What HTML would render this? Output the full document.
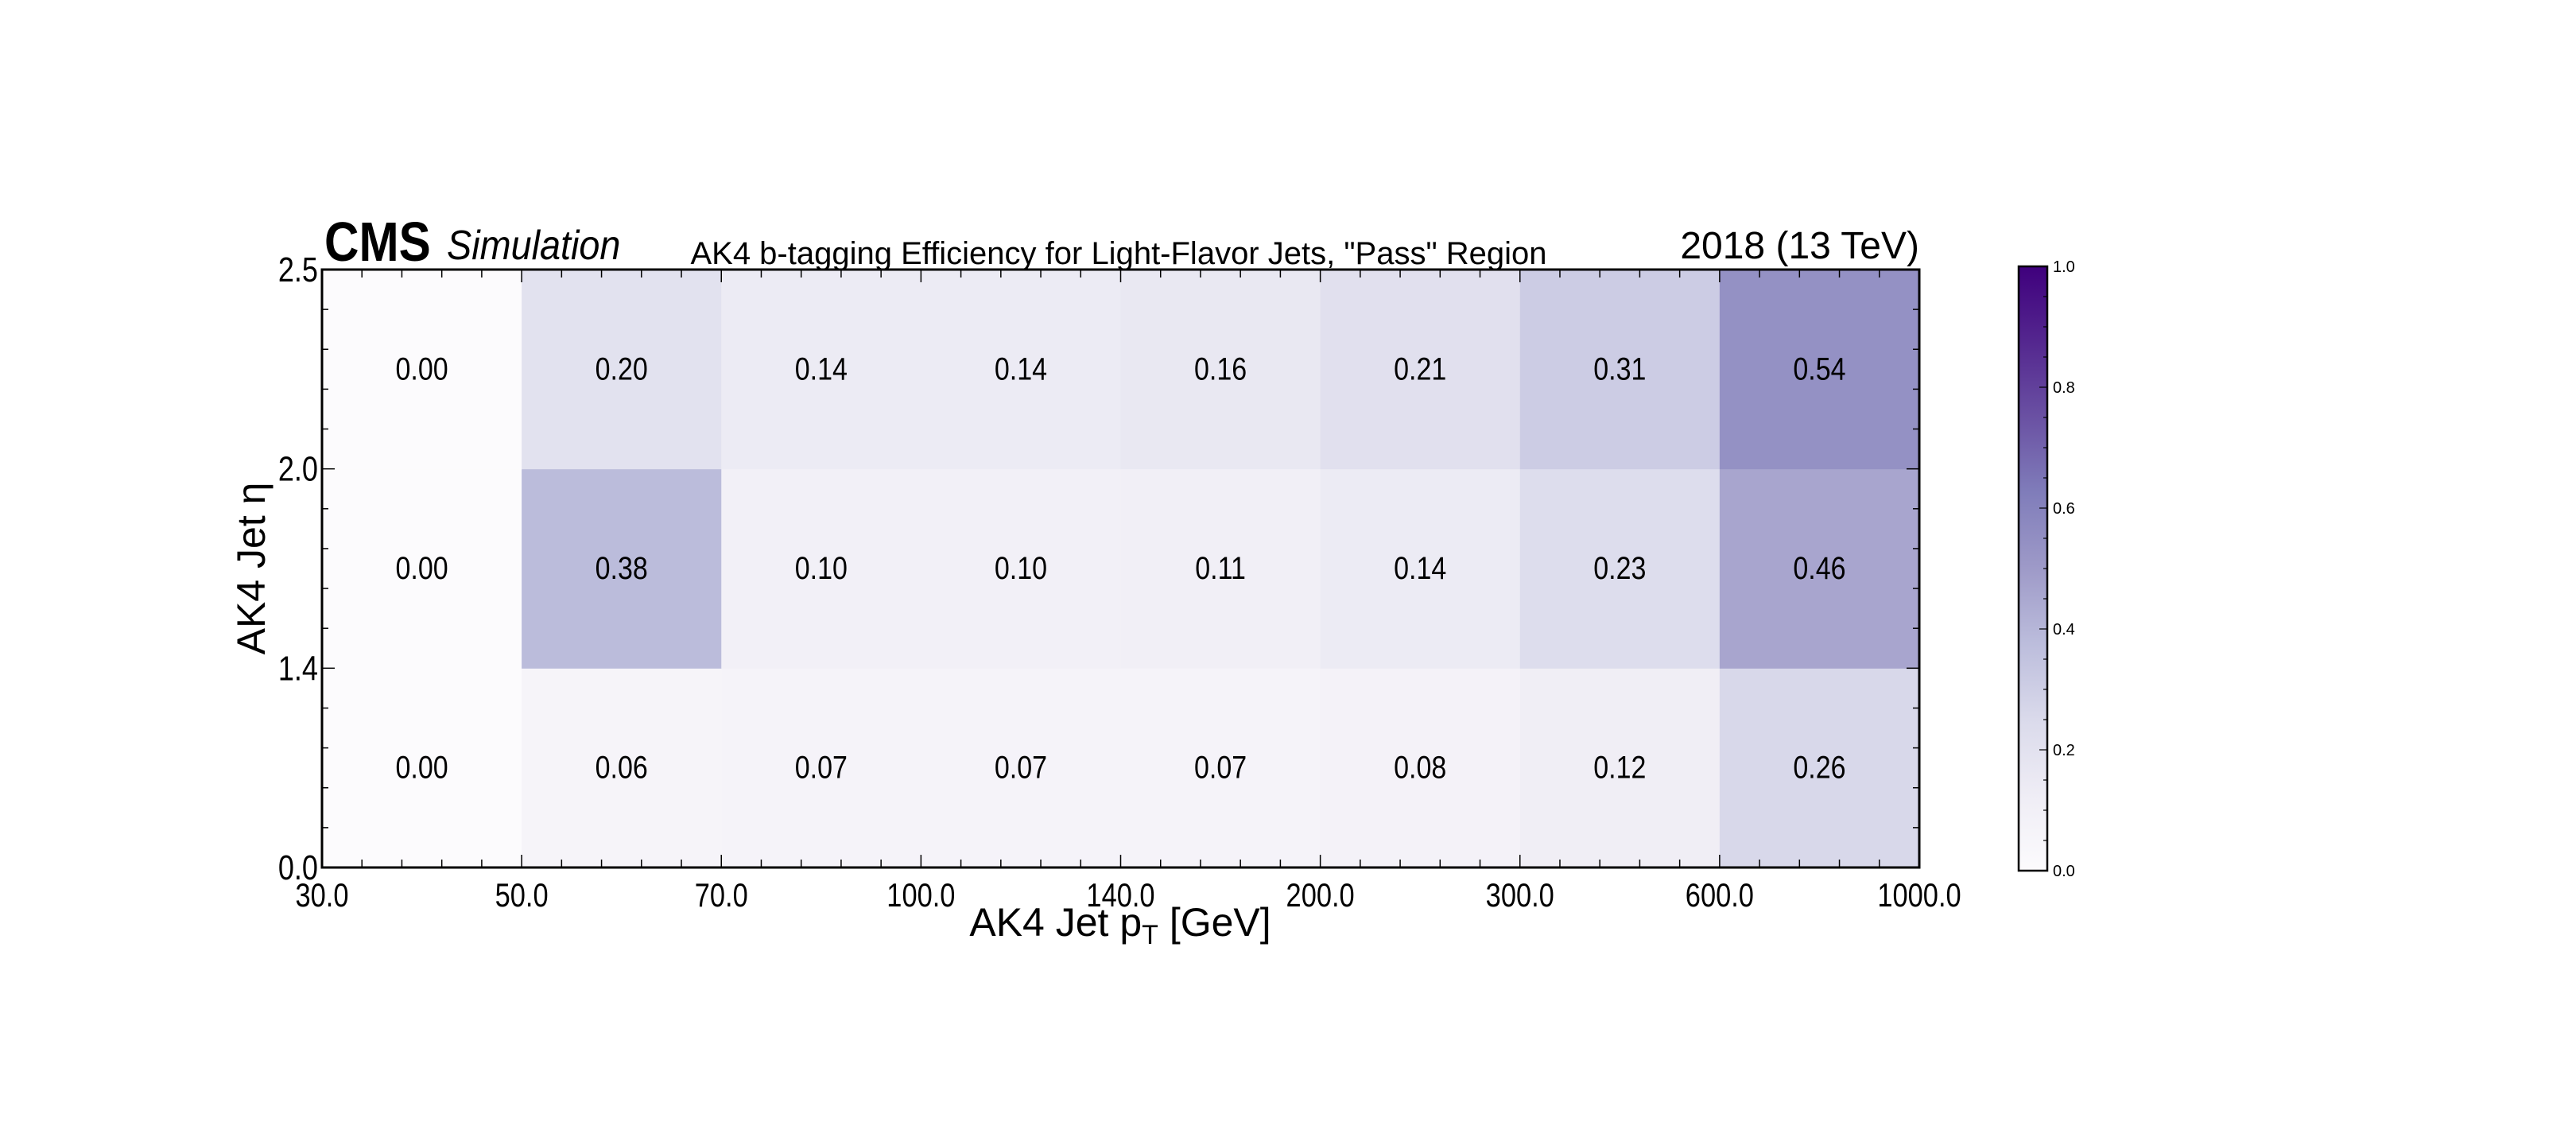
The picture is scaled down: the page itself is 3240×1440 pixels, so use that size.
<!DOCTYPE html>
<html><head><meta charset="utf-8">
<style>
html,body{margin:0;padding:0;background:#fff;width:3240px;height:1440px;overflow:hidden}
svg{display:block}
text{font-family:"Liberation Sans",sans-serif;fill:#000}
</style></head>
<body>
<svg id="chart" width="3240" height="1440" xmlns="http://www.w3.org/2000/svg">
<defs>
<linearGradient id="cbgrad" x1="0" y1="1" x2="0" y2="0">
<stop offset="0" stop-color="#fcfbfd"/><stop offset="0.125" stop-color="#efedf5"/>
<stop offset="0.25" stop-color="#dadaeb"/><stop offset="0.375" stop-color="#bcbddc"/>
<stop offset="0.5" stop-color="#9e9ac8"/><stop offset="0.625" stop-color="#807dba"/>
<stop offset="0.75" stop-color="#6a51a3"/><stop offset="0.875" stop-color="#54278f"/>
<stop offset="1" stop-color="#3f007d"/>
</linearGradient>
</defs>
<g id="cells"></g>
<g id="axes"></g>
<text transform="translate(408,328) scale(0.86,1)" font-size="70" font-weight="bold">CMS</text>
<text transform="translate(562,326) scale(0.9,1)" font-size="52" font-style="italic">Simulation</text>
<text x="1407" y="332" font-size="40" text-anchor="middle">AK4 b-tagging Efficiency for Light-Flavor Jets, "Pass" Region</text>
<text x="2414" y="325" font-size="48" text-anchor="end">2018 (13 TeV)</text>
<text x="1409" y="1177" font-size="50" text-anchor="middle">AK4 Jet p<tspan font-size="34" dy="10">T</tspan><tspan dy="-10"> [GeV]</tspan></text>
<text transform="translate(333,715) rotate(-90)" font-size="50" text-anchor="middle">AK4 Jet η</text>
</svg>
<script>
const xEdges = ["30.0","50.0","70.0","100.0","140.0","200.0","300.0","600.0","1000.0"];
const yEdges = ["0.0","1.4","2.0","2.5"];
const rowHigh = [0.00,0.20,0.14,0.14,0.16,0.21,0.31,0.54];
const rowMid  = [0.00,0.38,0.10,0.10,0.11,0.14,0.23,0.46];
const rowLow  = [0.00,0.06,0.07,0.07,0.07,0.08,0.12,0.26];
const cbTicks = ["0.0","0.2","0.4","0.6","0.8","1.0"];

const NS="http://www.w3.org/2000/svg";
const L=405,R=2414,T=339,B=1091;
const nx=xEdges.length-1, ny=yEdges.length-1;
const xPos=i=>L+(R-L)*i/nx;
const yPos=j=>B-(B-T)*j/ny;
const stops=[[0,[252,251,253]],[0.125,[239,237,245]],[0.25,[218,218,235]],[0.375,[188,189,220]],[0.5,[158,154,200]],[0.625,[128,125,186]],[0.75,[106,81,163]],[0.875,[84,39,143]],[1,[63,0,125]]];
function color(v){v=Math.max(0,Math.min(1,v));for(let k=1;k<stops.length;k++){if(v<=stops[k][0]){const a=stops[k-1],b=stops[k],t=(v-a[0])/(b[0]-a[0]);const c=a[1].map((x,i)=>Math.round(x+(b[1][i]-x)*t));return `rgb(${c})`;}}return 'rgb(63,0,125)';}
function mk(tag,attrs,parent){const e=document.createElementNS(NS,tag);for(const k in attrs)e.setAttribute(k,attrs[k]);parent.appendChild(e);return e;}
const cells=document.getElementById('cells'), axes=document.getElementById('axes');
const rows=[rowLow,rowMid,rowHigh];
rows.forEach((row,j)=>{row.forEach((v,i)=>{
  const r=mk('rect',{x:xPos(i),y:yPos(j+1),width:xPos(i+1)-xPos(i)+0.5,height:yPos(j)-yPos(j+1)+0.5,fill:color(v)},cells);
  
  
  const cx=(xPos(i)+xPos(i+1))/2, cy=(yPos(j)+yPos(j+1))/2+13;
  const t=mk('text',{transform:`translate(${cx},${cy}) scale(0.85,1)`,'font-size':40,'text-anchor':'middle'},cells);
  t.textContent=v.toFixed(2);
  
  
});});
for(let i=0;i<=nx;i++){
  const x=xPos(i);
  if(i>0&&i<nx){mk('line',{x1:x,x2:x,y1:B,y2:B-16,stroke:'#000','stroke-width':1.5},axes);mk('line',{x1:x,x2:x,y1:T,y2:T+16,stroke:'#000','stroke-width':1.5},axes);}
  if(i<nx)for(let m=1;m<5;m++){const xm=x+(xPos(1)-xPos(0))*m/5;mk('line',{x1:xm,x2:xm,y1:B,y2:B-10,stroke:'#000','stroke-width':1.5},axes);mk('line',{x1:xm,x2:xm,y1:T,y2:T+10,stroke:'#000','stroke-width':1.5},axes);}
  const t=mk('text',{transform:`translate(${x},1140) scale(0.82,1)`,'font-size':42,'text-anchor':'middle'},axes);
  t.textContent=xEdges[i];
  
  
}
for(let j=0;j<=ny;j++){
  const y=yPos(j);
  if(j>0&&j<ny){mk('line',{x1:L,x2:L+16,y1:y,y2:y,stroke:'#000','stroke-width':1.5},axes);mk('line',{x1:R,x2:R-16,y1:y,y2:y,stroke:'#000','stroke-width':1.5},axes);}
  if(j<ny)for(let m=1;m<5;m++){const ym=y-(yPos(0)-yPos(1))*m/5;mk('line',{x1:L,x2:L+8,y1:ym,y2:ym,stroke:'#000','stroke-width':1.5},axes);mk('line',{x1:R,x2:R-8,y1:ym,y2:ym,stroke:'#000','stroke-width':1.5},axes);}
  const t=mk('text',{transform:`translate(${L-5},${y+15}) scale(0.82,1)`,'font-size':44,'text-anchor':'end'},axes);
  t.textContent=yEdges[j];
  
  
}
const fr=mk('rect',{x:L,y:T,width:R-L,height:B-T,fill:'none',stroke:'#000','stroke-width':3},axes);


const CL=2539,CR=2575,CT=335,CB=1095;
const cb=mk('rect',{x:CL,y:CT,width:CR-CL,height:CB-CT,fill:'url(#cbgrad)',stroke:'#000','stroke-width':2.5},axes);


for(let k=0;k<=20;k++){const y=CB-(CB-CT)*k/20;const len=k%4===0?10:5;if(k>0&&k<20)mk('line',{x1:CR,x2:CR-len,y1:y,y2:y,stroke:'#000','stroke-width':1.2},axes);}
cbTicks.forEach((s,k)=>{const y=CB-(CB-CT)*parseFloat(s);
  const t=mk('text',{x:CR+7,y:y+7,'font-size':20},axes);
  t.textContent=s;
  
  
});
</script>
</body></html>
